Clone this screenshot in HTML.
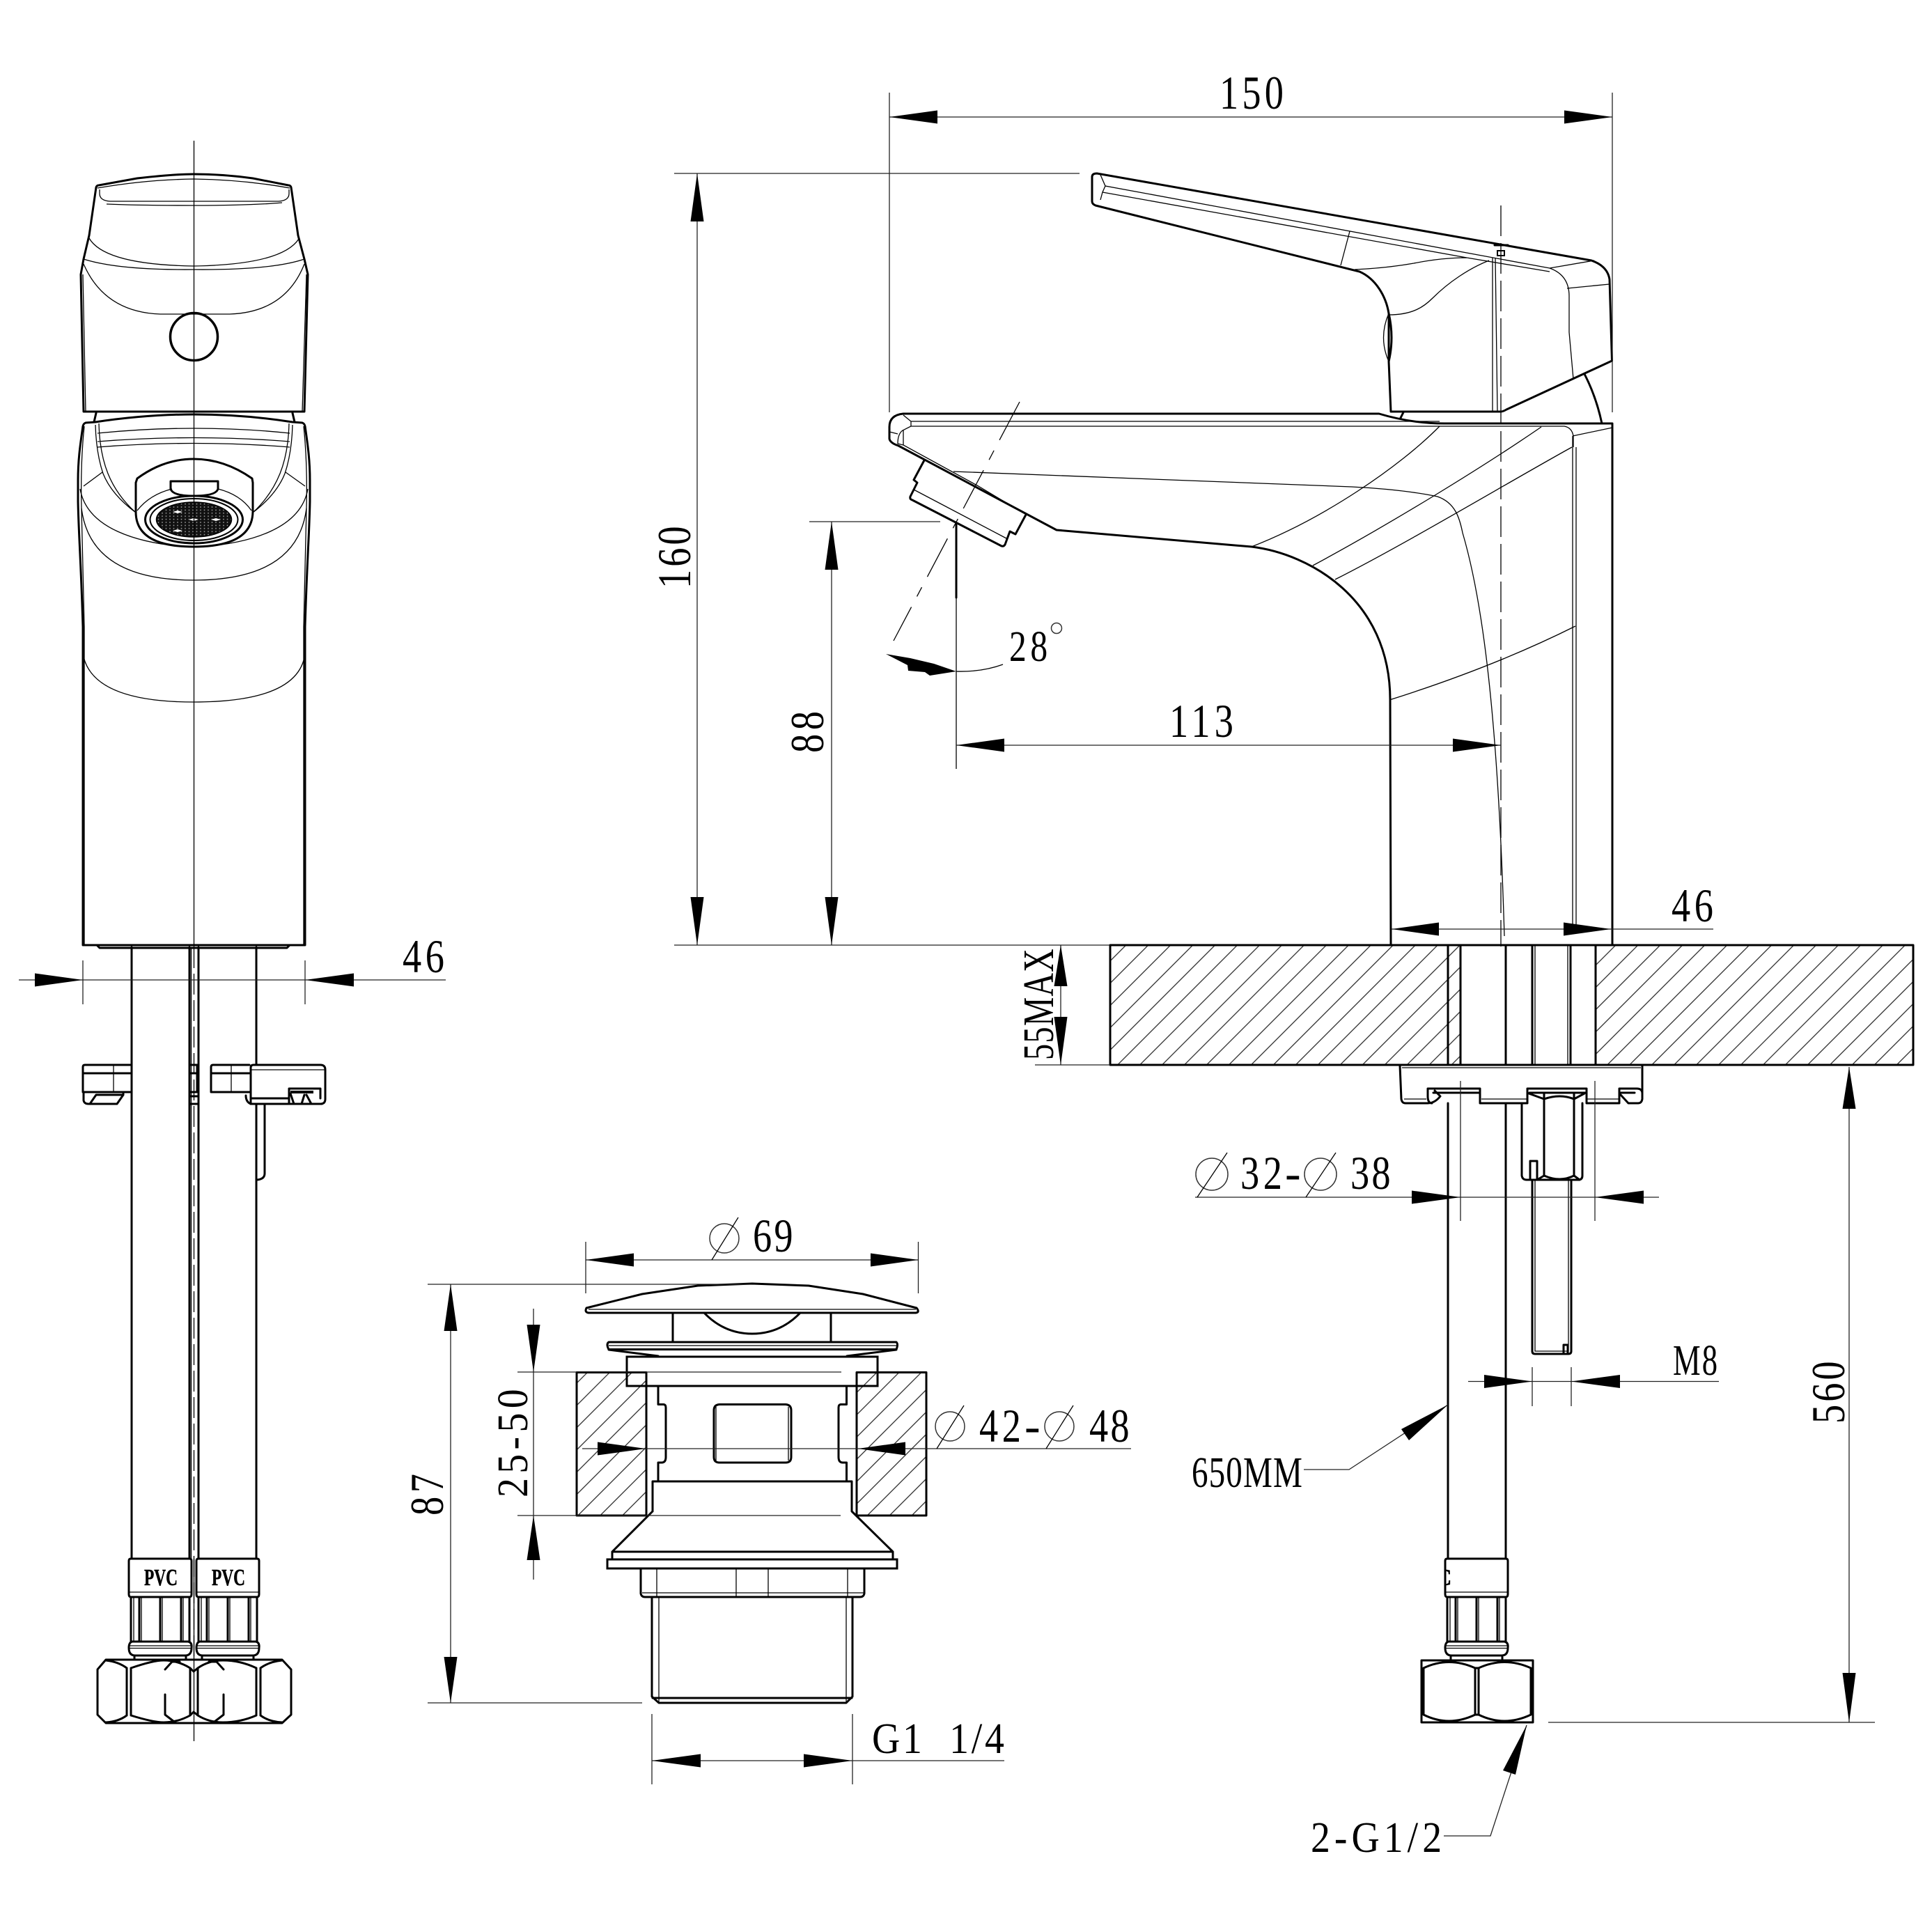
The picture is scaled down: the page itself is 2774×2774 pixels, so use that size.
<!DOCTYPE html>
<html><head><meta charset="utf-8"><style>
html,body{margin:0;padding:0;background:#fff}
svg{display:block}
text{font-family:"Liberation Serif",serif;font-size:68px;fill:#000}
.k{fill:none;stroke:#000;stroke-width:3;stroke-linejoin:round;stroke-linecap:round}
.t{fill:none;stroke:#000;stroke-width:1.3}
.d{fill:none;stroke:#222;stroke-width:1.3}
.a{fill:#000;stroke:none}
.f{fill:#fff;stroke:#000;stroke-width:3;stroke-linejoin:round}
</style></head><body>
<svg xmlns="http://www.w3.org/2000/svg" width="2774" height="2774" viewBox="0 0 2774 2774">
<defs>
<pattern id="h" width="22.6" height="22.6" patternUnits="userSpaceOnUse" patternTransform="rotate(-45)"><line x1="0" y1="1" x2="22.6" y2="1" stroke="#222" stroke-width="1.3"/></pattern>
<pattern id="m" width="5.5" height="4.4" patternUnits="userSpaceOnUse"><rect width="5.5" height="4.4" fill="#111"/><circle cx="2" cy="2" r="0.9" fill="#999"/></pattern>
<clipPath id="cc"><rect x="2076" y="2240" width="30" height="46"/></clipPath>
<g id="fit">
<path class="k" d="M185 2241q0-3 3-3h84q3 0 3 3v48q0 4-3 4h-84q-3 0-3-4z"/>
<path class="t" d="M185 2286h90"/>
<path class="k" d="M188 2293V2357M272 2293V2357M200 2293V2357M230 2293V2357M260 2293V2357"/>
<path class="t" d="M203 2293V2357M233 2293V2357M263 2293V2357M192 2293V2357"/>
<path class="k" d="M190 2357H270Q276 2358 275 2366Q275 2377 266 2377H194Q185 2377 185 2366Q185 2358 190 2357z"/>
<path class="t" d="M186 2363H274M186 2366.500H274"/>
<path class="k" d="M193 2377V2383M267 2377V2383"/>
</g>
</defs>
<rect width="2774" height="2774" fill="#fff"/>

<!-- FRONT VIEW -->
<path class="k" d="M120 591L116 394L120 372L128 338L138 269Q139 266 142 266L197 256Q250 250 278 250Q320 250 363 256L414 266Q417 266 418 269L428 338L437 372L442 394L437 591Z"/>
<path class="t" d="M119 394L123 591M440 394L434 591"/>
<path class="t" d="M140 270Q210 258 278 257Q350 258 416 270M143 272V278Q143 288 158 289H400Q415 288 415 278V272M153 293Q200 295 278 295Q360 295 405 291M128 342Q150 380 278 382Q405 380 429 343M120 372Q170 388 278 387Q390 388 437 372M120 379Q150 448 230 451H330Q410 448 437 379"/>
<circle cx="278.500" cy="483.500" r="34" fill="none" stroke="#000" stroke-width="3.500"/>
<path class="k" d="M135 606L138 593M423 606L420 593"/>
<path class="k" d="M137 606Q210 595 278 595Q350 595 420 606M137 606L123 607Q120 608 119 612C115 640 112 660 112 690V720C113 770 116 800 119 900V1357H438V900C441 800 444 770 445 720V690C445 660 442 640 438 612Q437 608 434 607L420 606"/>
<path class="k" d="M140 1358L143 1361H412L415 1358"/>
<path class="t" d="M121 612C117 650 116 690 117 730L121 900V1357M436 612C440 650 441 690 440 730L436 900V1357"/>
<path class="t" d="M140 622Q210 615 278 615Q350 615 416 622M140 634Q210 628.500 278 628.500Q350 628.500 416 634M140 642Q210 636.500 278 636.500Q350 636.500 416 642M137 610Q138 650 148 680Q160 710 195 736M142 608Q143 650 155 680Q168 712 195 736M420 610Q419 650 409 680Q397 710 363 736M415 608Q414 650 402 680Q389 712 363 736M120 698L147 678M438 698L410 678M115 702C125 760 200 780 267 785M442 702C432 760 357 780 290 785M117 730Q130 833 278.500 833Q427 833 440 730M119 938Q130 1008 278 1008Q430 1008 438 938"/>
<path class="f" d="M197 687Q235 659 278 659Q322 659 362 687L363 693V735Q362 785 278 785Q195 785 195 735V693Z"/>
<path class="t" d="M197 733Q215 710 247 702M313 702Q345 710 361 733"/>
<path class="k" d="M245 691H313V702Q310 712 278 712Q248 712 245 702Z"/>
<ellipse cx="278.500" cy="746" rx="70" ry="34" fill="#fff" stroke="#000" stroke-width="3"/>
<ellipse cx="278.500" cy="746" rx="63" ry="30" fill="none" stroke="#000" stroke-width="2"/>
<ellipse cx="278.500" cy="746" rx="54" ry="25" fill="url(#m)" stroke="#000" stroke-width="1.500"/>
<path fill="#fff" d="M255 733l7 2-7 2-7-2zM255 760l7 2-7 2-7-2zM278 744l7 2-7 2-7-2zM310 744l7 2-7 2-7-2z"/>
<path class="t" d="M278.500 202V1360"/>

<!-- front pipes -->
<path class="k" d="M189 1360V2238M272 1360V2238M285 1360V2238M368 1360V1529M368 1585V2238"/>
<path class="t" d="M274.500 1360V2238"/>
<path class="t" d="M278.500 1360V2383" stroke-dasharray="30 8"/>
<path class="t" d="M278.500 2238V2500"/>
<!-- bracket -->
<path class="k" d="M189 1529H122Q119 1529 119 1532V1568H189M119 1541H189"/>
<path class="t" d="M163 1529V1568"/>
<path class="k" d="M120 1568V1580Q121 1585 127 1585H168L177 1572M129 1585L138 1572H177V1568"/>
<path class="k" d="M358 1529H306Q303 1529 303 1532V1568H358M303 1541H358"/>
<path class="t" d="M332 1529V1568"/>
<path class="k" d="M272 1529H283M272 1541H283M272 1568H285M272 1574H285M272 1585H285M283 1529V1568"/>
<path class="f" d="M360 1533Q360 1529 364 1529H460Q467 1529 467 1536V1578Q467 1585 460 1585H360Z"/>
<path class="t" d="M360 1536H466"/>
<path class="k" d="M360 1577H415M415 1585V1563H460V1577"/>
<path d="M417 1566H450V1570H417Z" fill="#000"/>
<path class="k" d="M417 1570L422 1585H433L437 1572M440 1572L447 1585H462"/>
<path class="k" d="M353 1573Q353 1582 360 1585M380 1585V1685Q380 1693 369 1694"/>
<!-- PVC fittings front -->
<use href="#fit"/>
<use href="#fit" transform="translate(97,0)"/>
<text x="207" y="2276" textLength="48" lengthAdjust="spacingAndGlyphs" style="font-weight:700;font-size:34px;stroke:#000;stroke-width:.5">PVC</text>
<text x="304" y="2276" textLength="48" lengthAdjust="spacingAndGlyphs" style="font-weight:700;font-size:34px;stroke:#000;stroke-width:.5">PVC</text>
<!-- nuts front -->
<path class="k" d="M152 2383H405L418 2397V2462L405 2474H152L140 2462V2397Z"/>
<path class="k" d="M182 2395V2463M188 2395V2463M368 2395V2463M374 2395V2463M273 2395V2463M284 2395V2463M182 2395Q170 2386 152 2384M182 2463Q170 2472 152 2473M374 2395Q386 2386 405 2384M374 2463Q386 2472 405 2473M188 2395Q220 2384 235 2384Q255 2384 273 2395L278 2400L284 2395Q300 2384 320 2384Q345 2384 368 2395M188 2463Q220 2473 235 2473Q255 2473 273 2463L278 2458L284 2463Q300 2473 320 2473Q345 2473 368 2463"/>
<path class="k" d="M237 2397L247 2386L258 2386M237 2433V2462L250 2472M321 2397L311 2386L300 2386M321 2433V2462L308 2472"/>

<!-- front 46 -->
<path class="d" d="M27 1407H640M119 1379V1442M438 1379V1442"/>
<polygon class="a" points="119,1407 50,1397.500 50,1416.500"/>
<polygon class="a" points="438,1407 508,1397.500 508,1416.500"/>
<text transform="translate(578,1396) scale(.8,1)" textLength="75">46</text>

<!-- SIDE VIEW HANDLE -->
<path class="k" d="M1575 249L2285 374Q2308 382 2311 401L2314.500 518L2163 588Q2158 591 2155 591H1997L1994 519V450C1990 425 1975 400 1952 390L1573 295Q1568 293 1568 289V254Q1568 249 1575 249Z"/>
<path class="k" d="M1994 450Q2002 485 1994 519" />
<path class="t" d="M1994 450Q1979 485 1994 519M1580 251L1587 267L2225 385L2289 374M1583 276L2106 370M1580 287L1583 276L1587 267M2106 370L2225 390M2225 385Q2253 395 2253 425V477L2259 544M2250 414L2311 408M2147 370L2150 591M2143 370V591M1938 332L1925 381M1945 387Q1990 385 2030 378Q2070 370 2106 370M1994 452C2029 452 2045 440 2057 428C2080 405 2110 385 2138 374"/>
<path class="k" d="M2146 352H2165" stroke-width="4"/>
<rect x="2150" y="360" width="10" height="7" fill="none" stroke="#000" stroke-width="2"/>
<path class="k" d="M2015 592L2011 600M2275 537Q2292 570 2300 608"/>

<!-- SIDE VIEW SPOUT -->
<path class="k" d="M1297 594H1980C2010 603 2040 608 2074 608H2315V1357M1297 594Q1277 596 1277 613V630Q1278 636 1290 640L1517 761L1797 785C1880 795 1996 860 1996 1005L1997 1357"/>
<path class="k" d="M1327 661L1312 689L1317 693L1307 713Q1306 717 1310 718L1438 784Q1441 785 1443 782L1450 763L1458 767L1473 739"/>
<path class="t" d="M1312 703L1445 773M1297 596L1308 605V612L1296 618Q1289 623 1289 637L1297 639M1277 620L1289 623M1297 618V639L1403 697L1470 737M1308 605H2067M1308 612H2246Q2257 614 2259 626V642M2258 626V1340M2263 642V1340M2258 626L2315 614"/>
<path class="t" d="M2067 612C2010 670 1900 745 1797 785M2213 613C2130 670 2000 750 1885 812M2257 642C2170 690 2020 780 1917 832M1369 677L1941 699C2000 702 2040 708 2064 713C2090 722 2096 745 2100 765C2125 850 2150 1000 2160 1344M1995 1005C2090 975 2180 940 2262 899"/>
<!-- centre and tilted axis -->
<path class="t" d="M2155 295V1485" stroke-dasharray="44 10"/>
<path class="t" d="M1464 577L1283 920" stroke-dasharray="62 17 15 17"/>
<path class="k" d="M1373 752V858"/>
<path class="t" d="M1373 858V1104"/>
<path class="d" d="M1162 749H1350"/>
<polygon class="a" points="1272,939 1307,945 1341,953 1373,964 1335,970 1328,965 1304,963 1303,955"/>
<path class="t" d="M1373 964Q1410 965 1440 954"/>
<text transform="translate(1449,949) scale(.8,1)" textLength="69" style="font-size:62px">28</text>
<circle cx="1517" cy="902" r="7.500" fill="none" stroke="#333" stroke-width="1.500"/>

<!-- 150 -->
<path class="d" d="M1277 133V592M2315 133V592M1277 168H2315"/>
<polygon class="a" points="1277,168 1346,158.500 1346,177.500"/>
<polygon class="a" points="2315,168 2246,158.500 2246,177.500"/>
<text transform="translate(1751,156) scale(.8,1)" textLength="115">150</text>
<!-- 160 -->
<path class="d" d="M968 249H1550M968 1357H1997M1001 249V1357"/>
<polygon class="a" points="1001,249 991.500,318 1010.500,318"/>
<polygon class="a" points="1001,1357 991.500,1288 1010.500,1288"/>
<text transform="translate(991,845) rotate(-90) scale(.8,1)" textLength="112">160</text>
<!-- 88 -->
<path class="d" d="M1194 749V1357"/>
<polygon class="a" points="1194,749 1184.500,818 1203.500,818"/>
<polygon class="a" points="1194,1357 1184.500,1288 1203.500,1288"/>
<text transform="translate(1182,1081) rotate(-90) scale(.8,1)" textLength="75">88</text>
<!-- 113 -->
<path class="d" d="M1373 1070H2155"/>
<polygon class="a" points="1373,1070 1442,1060.500 1442,1079.500"/>
<polygon class="a" points="2155,1070 2086,1060.500 2086,1079.500"/>
<text transform="translate(1679,1058) scale(.8,1)" textLength="115">113</text>
<!-- 46 right -->
<path class="d" d="M1998 1334H2460"/>
<polygon class="a" points="1998,1334 2066,1324.500 2066,1343.500"/>
<polygon class="a" points="2313,1334 2245,1324.500 2245,1343.500"/>
<text transform="translate(2400,1323) scale(.8,1)" textLength="75">46</text>

<!-- COUNTER -->
<rect x="1594" y="1357" width="503" height="172" fill="url(#h)"/>
<rect x="2291" y="1357" width="456" height="172" fill="url(#h)"/>
<rect x="2098" y="1359" width="192" height="169" fill="#fff"/>
<path class="k" d="M1594 1357H2747V1529H1594ZM2097 1357V1529M2291 1357V1529M2079 1357V1529M2162 1357V1529M2200 1357V1529M2255 1357V1529"/>
<path class="t" d="M2204 1357V1529M2251 1357V1529"/>
<!-- flange -->
<path class="k" d="M2010 1530L2012 1578Q2013 1584 2018 1584H2050Q2060 1584 2068 1574L2060 1566M2050 1563V1574Q2050 1584 2056 1584M2050 1563H2125V1584H2193V1563H2278V1584H2325V1563H2350Q2358 1563 2358 1570V1578Q2357 1584 2352 1584H2338L2327 1572M2358 1570V1530"/>
<path class="t" d="M2013 1533H2356M2016 1578H2048M2127 1578H2193M2278 1578H2324"/>
<path class="k" d="M2058 1569H2125M2196 1569H2278M2327 1569H2347"/>
<!-- nut stud -->
<path class="k" d="M2185 1584V1688Q2186 1694 2192 1694H2266Q2272 1694 2272 1688V1584M2217 1570V1688L2207 1694M2260 1570V1688L2268 1694M2217 1578L2195 1570M2260 1578L2275 1570M2217 1578Q2240 1570 2260 1578M2217 1688Q2240 1698 2260 1688M2197 1694V1667H2207V1694"/>
<path class="k" d="M2200 1694V1940Q2200 1944 2204 1944H2252Q2256 1944 2256 1940V1694"/>
<path class="t" d="M2204 1694V1940H2252V1694"/>
<path class="k" d="M2245 1944V1931H2251V1944" stroke-width="2"/>
<!-- hose side -->
<path class="k" d="M2079 1584V2238M2162 1584V2238"/>
<path class="d" d="M2097 1552V1753M2290 1552V1753M1716 1719H2382"/>
<polygon class="a" points="2097,1719 2027,1709.500 2027,1728.500"/>
<polygon class="a" points="2290,1719 2360,1709.500 2360,1728.500"/>
<g class="t"><circle cx="1740" cy="1686" r="23" fill="none" stroke="#333" stroke-width="1.500"/><path d="M1719 1719L1762 1655"/><circle cx="1896" cy="1686" r="23" fill="none" stroke="#333" stroke-width="1.500"/><path d="M1875 1719L1918 1655"/></g>
<text transform="translate(1781,1707) scale(.8,1)" textLength="75">32</text>
<text x="1845" y="1707">-</text>
<text transform="translate(1939,1707) scale(.8,1)" textLength="72">38</text>
<!-- side fitting -->
<use href="#fit" transform="translate(1890,0)"/>
<g clip-path="url(#cc)"><text x="2060" y="2276" style="font-weight:700;font-size:34px;stroke:#000;stroke-width:.5">C</text></g>
<path class="k" d="M2041 2384H2201V2473H2041ZM2044 2395V2462M2198 2395V2462M2118 2395V2462M2123 2395V2462M2044 2395Q2080 2378 2118 2395L2123 2395Q2160 2378 2198 2395M2044 2462Q2080 2480 2118 2462H2123Q2160 2480 2198 2462"/>
<!-- M8 -->
<path class="d" d="M2108 1983.500H2468M2200 1963V2019M2256 1963V2019"/>
<polygon class="a" points="2200,1983.500 2131,1974 2131,1993"/>
<polygon class="a" points="2256,1983.500 2326,1974 2326,1993"/>
<text transform="translate(2402,1974) scale(.72,1)" textLength="89" style="font-size:62px">M8</text>
<!-- 650MM -->
<path class="d" d="M1872 2110H1937L2079 2017"/>
<polygon class="a" points="2079,2017 2012,2052 2023,2068"/>
<text transform="translate(1711,2135) scale(.76,1)" textLength="209" style="font-size:62px">650MM</text>
<!-- 2-G1/2 -->
<path class="d" d="M2073 2636H2140L2192 2477"/>
<polygon class="a" points="2192,2477 2158,2542 2176,2548"/>
<text transform="translate(1882,2659) scale(.9,1)" textLength="209" style="font-size:62px">2-G1/2</text>
<!-- 560 -->
<path class="d" d="M2223 2473H2692M2655 1532V2473"/>
<polygon class="a" points="2655,1532 2645.500,1592 2664.500,1592"/>
<polygon class="a" points="2655,2473 2645.500,2402 2664.500,2402"/>
<text transform="translate(2648,2044) rotate(-90) scale(.8,1)" textLength="112">560</text>
<!-- 55MAX -->
<path class="d" d="M1486 1529H1594M1523 1357V1529"/>
<polygon class="a" points="1523,1357 1513.500,1416 1532.500,1416"/>
<polygon class="a" points="1523,1529 1513.500,1460 1532.500,1460"/>
<text transform="translate(1512,1522) rotate(-90) scale(.75,1)" textLength="213" style="font-size:62px">55MAX</text>

<!-- DRAIN -->
<rect x="828" y="1970.500" width="100" height="205.500" fill="url(#h)"/>
<rect x="1230" y="1970.500" width="100" height="205.500" fill="url(#h)"/>
<path class="k" d="M828 1970.500H928V2176H828ZM1230 1970.500H1330V2176H1230Z"/>
<path class="k" d="M845 1885Q839 1884 842 1878L922 1858L1002 1846L1080 1843L1161 1846L1239 1858L1316 1878Q1321 1884 1315 1885Z"/>
<path class="t" d="M845 1880H1315"/>
<path class="k" d="M966 1885V1927M1193 1885V1927M1011 1885Q1040 1915 1080 1915Q1120 1915 1149 1885"/>
<path class="k" d="M874 1927H1287Q1290 1930 1287 1937.500H874Q870 1930 874 1927ZM874 1938L945 1947M1287 1938L1216 1947"/>
<path class="t" d="M874 1932H1287"/>
<rect x="900" y="1948" width="360" height="42" fill="none" stroke="#000" stroke-width="3"/>
<path class="k" d="M945 1990V2016.500H953Q956 2017 956 2021V2092Q956 2100 950 2100H945V2127M1215.500 1990V2016.500H1207Q1204 2017 1204 2021V2092Q1204 2100 1210 2100H1215.500V2127"/>
<path class="k" d="M1033 2016.500H1128Q1136 2017 1136 2025V2092Q1136 2100 1128 2100H1033Q1025 2100 1025 2092V2025Q1025 2017 1033 2016.500Z"/>
<path class="t" d="M1028 2020V2097M1132 2020V2097"/>
<path class="k" d="M937 2170V2127H1223V2170L1282 2228V2237M937 2170L879 2228V2237M879 2228H1282"/>
<rect x="872" y="2239" width="416" height="13" fill="none" stroke="#000" stroke-width="3"/>
<path class="k" d="M920 2252V2288Q921 2293 926 2293H1235Q1240 2293 1241 2288V2252"/>
<path class="t" d="M922 2287H1240M943 2252V2293M1057 2252V2293M1103 2252V2293M1217 2252V2293"/>
<path class="k" d="M936 2293V2436L946 2445H1215L1224 2436V2293M937 2438H1223"/>
<path class="t" d="M946 2293V2445M1215 2293V2445"/>
<!-- drain dims -->
<path class="d" d="M614 1844H1080M743 1970H1208M743 2176H1207M614 2445H922"/>
<!-- Ø69 -->
<path class="d" d="M841 1783V1857M1318.500 1783V1857M841 1809H1318.500"/>
<polygon class="a" points="841,1809 910,1799.500 910,1818.500"/>
<polygon class="a" points="1318.500,1809 1250,1799.500 1250,1818.500"/>
<circle cx="1040" cy="1778" r="21" fill="none" stroke="#333" stroke-width="1.500"/>
<path class="t" d="M1022 1809L1060 1748"/>
<text transform="translate(1081,1797) scale(.8,1)" textLength="72">69</text>
<!-- 87 -->
<path class="d" d="M647 1844V2445"/>
<polygon class="a" points="647,1844 637.500,1911 656.500,1911"/>
<polygon class="a" points="647,2445 637.500,2379 656.500,2379"/>
<text transform="translate(636,2176) rotate(-90) scale(.8,1)" textLength="75">87</text>
<!-- 25-50 -->
<path class="d" d="M766 1879V2268"/>
<polygon class="a" points="766,1970 756.500,1902 775.500,1902"/>
<polygon class="a" points="766,2176 756.500,2240 775.500,2240"/>
<text transform="translate(757,2150) rotate(-90) scale(.9,1)" textLength="173" style="font-size:62px">25-50</text>
<!-- Ø42-48 -->
<path class="d" d="M836 2080H1624"/>
<polygon class="a" points="927,2080 858,2070.500 858,2089.500"/>
<polygon class="a" points="1232,2080 1300,2070.500 1300,2089.500"/>
<circle cx="1364" cy="2048" r="21" fill="none" stroke="#333" stroke-width="1.500"/>
<path class="t" d="M1345 2080L1384 2018"/>
<circle cx="1521" cy="2048" r="21" fill="none" stroke="#333" stroke-width="1.500"/>
<path class="t" d="M1502 2080L1541 2018"/>
<text transform="translate(1406,2070) scale(.8,1)" textLength="75">42</text>
<text x="1471" y="2070">-</text>
<text transform="translate(1564,2070) scale(.8,1)" textLength="72">48</text>
<!-- G1 1/4 -->
<path class="d" d="M936 2461V2562M1224 2461V2562M936 2528H1442"/>
<polygon class="a" points="936,2528 1006,2518.500 1006,2537.500"/>
<polygon class="a" points="1224,2528 1154,2518.500 1154,2537.500"/>
<text transform="translate(1252,2517) scale(.9,1)" textLength="211" xml:space="preserve" style="font-size:62px">G1  1/4</text>
</svg>
</body></html>
